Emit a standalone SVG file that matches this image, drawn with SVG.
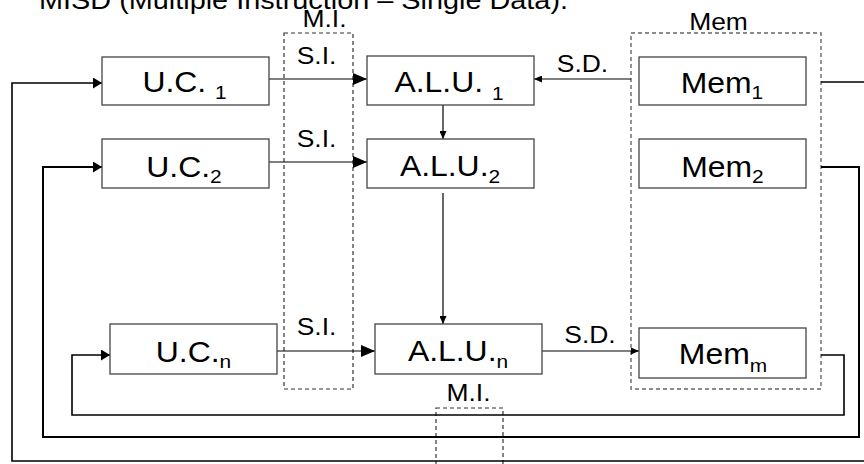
<svg xmlns="http://www.w3.org/2000/svg" width="864" height="464" viewBox="0 0 864 464">
<defs>
<style>
text{font-family:"Liberation Sans",Arial,sans-serif;fill:#000;}
.lbl{font-size:29px;text-anchor:middle;}
.sub{font-size:19px;}
.tag{font-size:23px;text-anchor:middle;}
.title{font-size:26px;}
.box{fill:#fff;stroke:#444;stroke-width:1.3;}
.grp{fill:none;stroke:#333;stroke-width:1.2;stroke-dasharray:4 3;}
.grp2{fill:none;stroke:#666;stroke-width:1.4;stroke-dasharray:4 3;}
.ln{fill:none;stroke:#000;stroke-width:1.2;}
.loop{fill:none;stroke:#000;stroke-width:1.6;}
.loopb{fill:none;stroke:#000;stroke-width:2;}
</style>
<marker id="big" markerUnits="userSpaceOnUse" markerWidth="14" markerHeight="12" refX="14" refY="6" orient="auto"><path d="M0,0 L14,6 L0,12 z" fill="#000"/></marker>
<marker id="mid" markerUnits="userSpaceOnUse" markerWidth="9" markerHeight="11" refX="9" refY="5.5" orient="auto"><path d="M0,0 L9,5.5 L0,11 z" fill="#000"/></marker>
<marker id="small" markerUnits="userSpaceOnUse" markerWidth="8" markerHeight="7" refX="8" refY="3.5" orient="auto"><path d="M0,0 L8,3.5 L0,7 z" fill="#000"/></marker>
</defs>

<text class="title" transform="translate(39,9) scale(1.11,1)">MISD (Multiple Instruction – Single Data).</text>

<g id="groups">
<rect class="grp" x="284" y="33" width="69" height="356"/>
<rect class="grp2" x="631" y="33" width="190" height="356"/>
<rect class="grp" x="436" y="408" width="67" height="70"/>
</g>

<g id="connectors">
<path class="loop" d="M821,82 H872 V461 H12 V83 H102" marker-end="url(#mid)"/>
<path class="loopb" d="M821,167 H859 V437 H43 V167 H102" marker-end="url(#mid)"/>
<path class="loop" d="M821,355 H844 V415 H72 V355 H110" marker-end="url(#mid)"/>
<path class="ln" d="M269,79 H367" marker-end="url(#big)"/>
<path class="ln" d="M269,162 H367" marker-end="url(#big)"/>
<path class="ln" d="M277,351 H375" marker-end="url(#big)"/>
<path class="ln" d="M631,79 H534" marker-end="url(#small)"/>
<path class="ln" d="M542,351 H639" marker-end="url(#small)"/>
<path class="ln" d="M443,105 V139" marker-end="url(#small)"/>
<path class="ln" d="M443,193 V324" marker-end="url(#small)"/>
</g>

<g id="labels">
<text class="tag" transform="translate(324.5,27) scale(1.15,1)">M.I.</text>
<text class="tag" transform="translate(718.5,30) scale(1.15,1)">Mem</text>
<text class="tag" transform="translate(316.5,64) scale(1.15,1)">S.I.</text>
<text class="tag" transform="translate(316.5,147) scale(1.15,1)">S.I.</text>
<text class="tag" transform="translate(316.5,335) scale(1.15,1)">S.I.</text>
<text class="tag" transform="translate(582.5,72) scale(1.15,1)">S.D.</text>
<text class="tag" transform="translate(590,343) scale(1.15,1)">S.D.</text>
<text class="tag" transform="translate(468.5,401) scale(1.15,1)">M.I.</text>
</g>

<g id="uc1"><rect class="box" x="102" y="57" width="167" height="48"/>
<text class="lbl" transform="translate(184.5,92) scale(1.1,1)">U.C. <tspan class="sub" dy="7">1</tspan></text></g>
<g id="uc2"><rect class="box" x="102" y="139" width="167" height="49"/>
<text class="lbl" transform="translate(184,177) scale(1.1,1)">U.C.<tspan class="sub" dy="6">2</tspan></text></g>
<g id="ucn"><rect class="box" x="110" y="324" width="167" height="50"/>
<text class="lbl" transform="translate(193.5,362) scale(1.1,1)">U.C.<tspan class="sub" dy="6">n</tspan></text></g>

<g id="alu1"><rect class="box" x="367" y="56" width="167" height="49"/>
<text class="lbl" transform="translate(449,92) scale(1.1,1)">A.L.U. <tspan class="sub" dy="8">1</tspan></text></g>
<g id="alu2"><rect class="box" x="367" y="139" width="167" height="49"/>
<text class="lbl" transform="translate(450,176) scale(1.1,1)">A.L.U.<tspan class="sub" dy="7">2</tspan></text></g>
<g id="alun"><rect class="box" x="375" y="324" width="167" height="50"/>
<text class="lbl" transform="translate(458,361) scale(1.1,1)">A.L.U.<tspan class="sub" dy="7">n</tspan></text></g>

<g id="mem1"><rect class="box" x="639" y="57" width="167" height="48"/>
<text class="lbl" transform="translate(722,93) scale(1.1,1)">Mem<tspan class="sub" dy="6">1</tspan></text></g>
<g id="mem2"><rect class="box" x="639" y="139" width="167" height="49"/>
<text class="lbl" transform="translate(722.5,177) scale(1.1,1)">Mem<tspan class="sub" dy="6">2</tspan></text></g>
<g id="memm"><rect class="box" x="639" y="328" width="167" height="50"/>
<text class="lbl" transform="translate(723,364) scale(1.1,1)">Mem<tspan class="sub" dy="8">m</tspan></text></g>
</svg>
